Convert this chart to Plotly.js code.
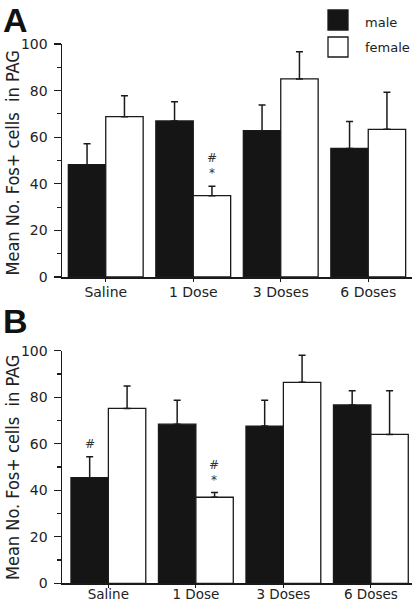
<!DOCTYPE html>
<html>
<head>
<meta charset="utf-8">
<script src="https://cdn.plot.ly/plotly-3.0.1.min.js"></script>
<style>
  html, body { margin: 0; padding: 0; background: #fff; }
  #chart { width: 415px; height: 602px; }
</style>
</head>
<body>
<div id="chart"></div>
<script>
// ---- data ----
const categories = ['Saline', '1 Dose', '3 Doses', '6 Doses'];
const seriesNames = ['male', 'female'];
const maleA = [48.2, 67.0, 62.8, 55.2];
const maleAErr = [9.0, 8.2, 11.0, 11.5];
const femaleA = [68.8, 34.9, 85.0, 63.4];
const femaleAErr = [9.0, 4.1, 11.7, 15.9];
const maleB = [45.4, 68.4, 67.6, 76.7];
const maleBErr = [9.0, 10.3, 11.1, 6.1];
const femaleB = [75.2, 37.0, 86.4, 64.0];
const femaleBErr = [9.6, 2.0, 11.6, 18.8];
const yTicks = [0, 20, 40, 60, 80, 100];
const yTitle = 'Mean No. Fos+ cells  in PAG';
const panelLabels = ['A', 'B'];
// significance marks: panel, category, series, symbols (bottom to top)
const sigMarks = [
  { panel: 'A', cat: '1 Dose', series: 'female', symbols: ['*', '#'] },
  { panel: 'B', cat: 'Saline', series: 'male', symbols: ['#'] },
  { panel: 'B', cat: '1 Dose', series: 'female', symbols: ['*', '#'] }
];

// ---- styles ----
const W = 415, H = 602;
const barColors = { male: '#151515', female: '#ffffff' };
const lineCol = '#1a1a1a';
const tickFont = { family: 'DejaVu Sans, sans-serif', size: 14, color: '#222' };
const letterFont = { family: 'Liberation Sans, Arial, sans-serif', size: 34, color: '#111' };

function mkTrace(name, vals, errs, xa, ya) {
  return {
    type: 'bar', name: name, x: categories, y: vals,
    xaxis: xa, yaxis: ya, showlegend: false,
    marker: { color: barColors[name], line: { color: lineCol, width: 1.3 } },
    error_y: { type: 'data', symmetric: false, array: errs,
               arrayminus: errs.map(() => 0), color: lineCol, thickness: 1.5, width: 3.5 }
  };
}

const traces = [
  mkTrace('male', maleA, maleAErr, 'x', 'y'),
  mkTrace('female', femaleA, femaleAErr, 'x', 'y'),
  mkTrace('male', maleB, maleBErr, 'x2', 'y2'),
  mkTrace('female', femaleB, femaleBErr, 'x2', 'y2')
];

const px = v => v / W;
const py = v => 1 - v / H;

function yAxis(domain, anchor) {
  return {
    domain: domain, range: [0, 100], tickvals: yTicks, ticks: 'outside', ticklen: 7,
    anchor: anchor, ticksuffix: '\u00a0\u00a0', ticklabelstandoff: 3,
    tickwidth: 1.3, tickcolor: lineCol, showline: true, linecolor: lineCol, linewidth: 1.5,
    showgrid: false, zeroline: false, tickfont: tickFont,
    minor: { dtick: 10, ticks: 'outside', ticklen: 4, tickwidth: 1.1, tickcolor: lineCol, showgrid: false },
    fixedrange: true
  };
}
function xAxis(range, anchor, standoff, fsize) {
  return {
    domain: [px(62), px(412)], range: range, anchor: anchor, type: 'category',
    ticks: 'outside', ticklen: 3, tickwidth: 1.1, tickcolor: lineCol,
    showline: true, linecolor: lineCol, linewidth: 1.5, showgrid: false, zeroline: false,
    tickfont: Object.assign({}, tickFont, { size: fsize }), ticklabelstandoff: standoff, fixedrange: true
  };
}

const annotations = [];
// y titles
[py(163.5), py(468)].forEach(p => {
  annotations.push({ xref: 'paper', yref: 'paper', x: px(12), y: p, text: yTitle,
    textangle: -90, showarrow: false, xanchor: 'center', yanchor: 'middle',
    font: { family: 'DejaVu Sans Condensed, DejaVu Sans, sans-serif', size: 18, color: '#222' } });
});
// panel letters
annotations.push({ xref: 'paper', yref: 'paper', x: px(15), y: py(0), text: '<b>' + panelLabels[0] + '</b>',
  showarrow: false, xanchor: 'center', yanchor: 'top', borderpad: 0, font: letterFont });
annotations.push({ xref: 'paper', yref: 'paper', x: px(15), y: py(321), text: '<b>' + panelLabels[1] + '</b>',
  showarrow: false, xanchor: 'center', yanchor: 'middle', font: letterFont });
// legend text
annotations.push({ xref: 'paper', yref: 'paper', x: px(363), y: py(22), text: seriesNames[0],
  showarrow: false, xanchor: 'left', yanchor: 'middle', font: { family: 'DejaVu Sans, sans-serif', size: 13, color: '#222' } });
annotations.push({ xref: 'paper', yref: 'paper', x: px(363), y: py(48), text: seriesNames[1],
  showarrow: false, xanchor: 'left', yanchor: 'middle', font: { family: 'DejaVu Sans, sans-serif', size: 13, color: '#222' } });
// significance marks
const data = {
  A: { male: [maleA, maleAErr], female: [femaleA, femaleAErr], xr: 'x', yr: 'y' },
  B: { male: [maleB, maleBErr], female: [femaleB, femaleBErr], xr: 'x2', yr: 'y2' }
};
sigMarks.forEach(m => {
  const d = data[m.panel];
  const i = categories.indexOf(m.cat);
  const top = d[m.series][0][i] + d[m.series][1][i];
  m.symbols.forEach((s, k) => {
    annotations.push({ xref: d.xr, yref: d.yr, x: m.cat, y: top, text: s, showarrow: false,
      xshift: m.series === 'male' ? -18.5 : 18.5, yshift: 13 + k * 15,
      xanchor: 'center', yanchor: 'middle',
      font: { family: 'DejaVu Sans, sans-serif', size: 12, color: '#333' } });
  });
});

const shapes = [
  { type: 'rect', xref: 'paper', yref: 'paper', x0: px(328), x1: px(348), y0: py(30), y1: py(10),
    fillcolor: barColors.male, line: { color: lineCol, width: 1.3 } },
  { type: 'rect', xref: 'paper', yref: 'paper', x0: px(328), x1: px(348), y0: py(57), y1: py(37),
    fillcolor: barColors.female, line: { color: lineCol, width: 1.3 } }
];

const layout = {
  width: W, height: H, margin: { l: 0, r: 0, t: 0, b: 0 },
  paper_bgcolor: '#fff', plot_bgcolor: '#fff',
  barmode: 'group', bargap: 0.145, bargroupgap: 0,
  showlegend: false,
  xaxis: xAxis([-0.5, 3.5], 'y', -1, 14),
  yaxis: yAxis([py(277), py(44)], 'x'),
  xaxis2: xAxis([-0.53, 3.47], 'y2', -5, 13.5),
  yaxis2: yAxis([py(583.3), py(350.7)], 'x2'),
  annotations: annotations, shapes: shapes
};

Plotly.newPlot('chart', traces, layout, { staticPlot: true, displayModeBar: false });
</script>
</body>
</html>
